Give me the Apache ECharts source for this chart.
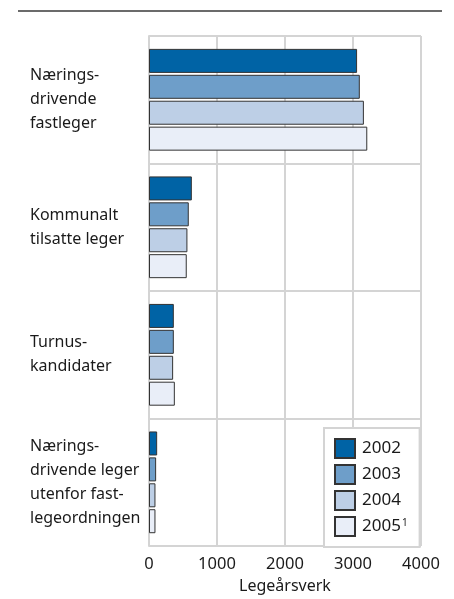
<!DOCTYPE html>
<html>
<head>
<meta charset="utf-8">
<script src="https://cdn.jsdelivr.net/npm/echarts@6/dist/echarts.min.js"></script>
<style>
    html, body { margin: 0; padding: 0; background: #fff; }
    #chart { width: 454px; height: 599px; }
</style>
</head>
<body>
<div id="chart"></div>
<script>
// kategorier (ovenfra og ned)
var categories = [
    'Nærings-\ndrivende\nfastleger',
    'Kommunalt\ntilsatte leger',
    'Turnus-\nkandidater',
    'Nærings-\ndrivende leger\nutenfor fast-\nlegeordningen'
];
var years = ['2002', '2003', '2004', '2005'];
var values2002 = [3060, 630, 365, 120];
var values2003 = [3100, 585, 365, 105];
var values2004 = [3160, 565, 355, 95];
var values2005 = [3210, 555, 380, 95];
var xTicks = [0, 1000, 2000, 3000, 4000];

var colors = ['#0063a5', '#6e9ec9', '#bdcfe6', '#e9eef8'];
var gridColor = '#d4d4d4';
var font = '"Noto Sans", sans-serif';

var seriesData = [values2002, values2003, values2004, values2005];
var series = [];
for (var i = 0; i < years.length; i++) {
    series.push({
        name: years[i],
        type: 'bar',
        data: seriesData[i],
        barWidth: 24,
        barGap: '8%',
        itemStyle: {
            color: colors[i],
            borderColor: '#333',
            borderWidth: 1
        }
    });
}

var myChart = echarts.init(document.getElementById('chart'));
var option = {
    animation: false,
    textStyle: { fontFamily: font },
    graphic: [{
        type: 'line',
        shape: { x1: 18, y1: 11, x2: 442, y2: 11 },
        style: { stroke: '#6b6b6b', lineWidth: 2 }
    }],
    grid: {
        left: 149,
        right: 33,
        top: 36,
        bottom: 47
    },
    legend: {
        orient: 'vertical',
        left: 324,
        top: 428,
        padding: [10, 12, 10, 10],
        itemWidth: 20,
        itemHeight: 19,
        itemGap: 5,
        icon: 'rect',
        backgroundColor: '#fff',
        borderColor: gridColor,
        borderWidth: 2,
        borderRadius: 0,
        data: years,
        formatter: function(name) {
            return name === '2005' ? '2005{sup|1}' : name;
        },
        textStyle: {
            fontFamily: font,
            fontSize: 17,
            color: '#1a1a1a',
            padding: [0, 0, 0, 2],
            rich: {
                sup: { fontSize: 10, verticalAlign: 'top', padding: [0, 0, 7, 1], color: '#1a1a1a' }
            }
        }
    },
    xAxis: {
        type: 'value',
        min: xTicks[0],
        max: xTicks[xTicks.length - 1],
        interval: 1000,
        name: 'Legeårsverk',
        nameLocation: 'middle',
        nameGap: 31,
        nameTextStyle: { fontFamily: font, fontSize: 16, color: '#1a1a1a' },
        axisLine: { show: false },
        axisTick: { show: false },
        axisLabel: {
            fontFamily: font,
            fontSize: 16.5,
            color: '#1a1a1a',
            margin: 10,
            formatter: function(v) { return String(v); }
        },
        splitLine: { show: true, lineStyle: { color: gridColor, width: 2 } }
    },
    yAxis: {
        type: 'category',
        inverse: true,
        data: categories,
        axisLine: { show: true, lineStyle: { color: gridColor, width: 2 } },
        axisTick: { show: false },
        axisLabel: {
            fontFamily: font,
            fontSize: 16,
            lineHeight: 24,
            color: '#1a1a1a',
            align: 'left',
            margin: 119
        },
        splitLine: { show: true, lineStyle: { color: gridColor, width: 2 } }
    },
    series: series
};
myChart.setOption(option, true);
</script>
</body>
</html>
